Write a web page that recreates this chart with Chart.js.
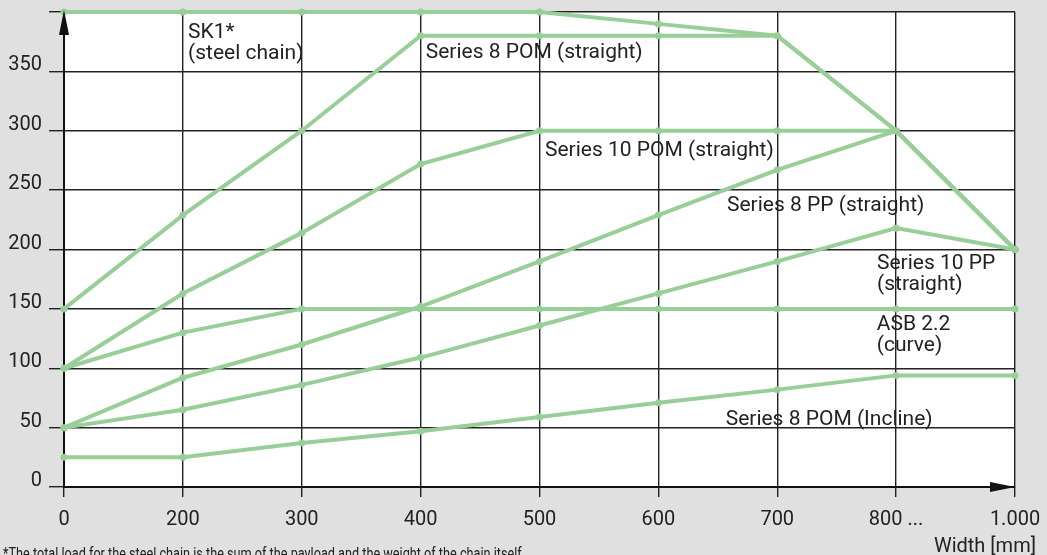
<!DOCTYPE html>
<html>
<head>
<meta charset="utf-8">
<script src="https://cdn.jsdelivr.net/npm/chart.js@4.4.1/dist/chart.umd.min.js"></script>
<style>
  html, body { margin: 0; padding: 0; background: #e0e0e0; }
  #wrap { width: 1047px; height: 555px; position: relative; }
</style>
</head>
<body>
<div id="wrap"><canvas id="loadChart"></canvas></div>
<script>
const widths = ['0', '200', '300', '400', '500', '600', '700', '800 ...', '1.000'];
const sk1Steel = [400, 400, 400, 400, 400, 390, 380, 300, 200];
const s8PomStraight = [150, 229, 300, 380, 380, 380, 380, 300, 200];
const s10PomStraight = [100, 163, 214, 272, 300, 300, 300, 300, 200];
const s8PpStraight = [50, 92, 120, 152, 190, 229, 267, 300, 200];
const s10PpStraight = [50, 65, 86, 109, 136, 163, 190, 218, 200];
const asbCurve = [100, 130, 150, 150, 150, 150, 150, 150, 150];
const s8PomIncline = [25, 25, 37, 47, 59, 71, 82, 94, 94];
const yTicks = [0, 50, 100, 150, 200, 250, 300, 350];

// series labels: lines, x (category index), y (value at first baseline)
const seriesLabels = [
  { lines: ['SK1*', '(steel chain)'], x: 1.043, y: 378 },
  { lines: ['Series 8 POM (straight)'], x: 3.043, y: 361 },
  { lines: ['Series 10 POM (straight)'], x: 4.046, y: 279 },
  { lines: ['Series 8 PP (straight)'], x: 5.577, y: 232.5 },
  { lines: ['Series 10 PP', '(straight)'], x: 6.839, y: 184 },
  { lines: ['ASB 2.2', '(curve)'], x: 6.837, y: 132.5 },
  { lines: ['Series 8 POM (Incline)'], x: 5.566, y: 52.3 }
];

const green = '#98ce98';
const ink = '#222';
const font = 'Roboto';

const series = [sk1Steel, s8PomStraight, s10PomStraight, s8PpStraight, s10PpStraight, asbCurve, s8PomIncline];

const plotBg = {
  id: 'plotBg',
  beforeDraw(chart) {
    const { ctx, chartArea: a } = chart;
    ctx.save();
    ctx.fillStyle = '#fff';
    ctx.fillRect(a.left, a.top, a.right - a.left, a.bottom - a.top);
    ctx.restore();
  }
};

const extras = {
  id: 'extras',
  afterDatasetsDraw(chart) {
    const { ctx, chartArea: a, scales: { x, y } } = chart;
    ctx.save();
    // arrows
    ctx.fillStyle = '#111';
    ctx.beginPath();
    ctx.moveTo(a.left, a.top - 2);
    ctx.lineTo(a.left - 5, a.top + 23);
    ctx.lineTo(a.left + 5, a.top + 23);
    ctx.closePath();
    ctx.fill();
    ctx.beginPath();
    ctx.moveTo(a.right, a.bottom);
    ctx.lineTo(a.right - 25, a.bottom - 5);
    ctx.lineTo(a.right - 25, a.bottom + 5);
    ctx.closePath();
    ctx.fill();

    // series labels
    ctx.fillStyle = ink;
    ctx.font = '21px ' + font;
    ctx.textAlign = 'left';
    ctx.textBaseline = 'alphabetic';
    seriesLabels.forEach(l => {
      const px = x.getPixelForValue(l.x);
      const py = y.getPixelForValue(l.y);
      l.lines.forEach((t, i) => ctx.fillText(t, px, py + i * 21));
    });

    // axis title
    ctx.font = '20px ' + font;
    ctx.textAlign = 'right';
    ctx.fillText('Width [mm]', 1036, 552);

    // footnote
    const note = '*The total load for the steel chain is the sum of the payload and the weight of the chain itself.';
    ctx.font = '16px ' + font;
    ctx.textAlign = 'left';
    const w = ctx.measureText(note).width;
    ctx.translate(3, 559);
    ctx.scale(522 / w, 1);
    ctx.fillText(note, 0, 0);
    ctx.restore();
  }
};

new Chart(document.getElementById('loadChart'), {
  type: 'line',
  data: {
    labels: widths,
    datasets: series.map(d => ({
      data: d,
      borderColor: green,
      backgroundColor: green,
      borderWidth: 4,
      pointRadius: 3.5,
      pointBorderWidth: 0,
      pointBackgroundColor: green,
      tension: 0,
      clip: false
    }))
  },
  options: {
    responsive: true,
    maintainAspectRatio: false,
    animation: false,
    layout: { padding: { top: 12, right: 32, left: 0, bottom: 0 } },
    plugins: { legend: { display: false }, tooltip: { enabled: false } },
    scales: {
      x: {
        type: 'category',
        grid: { color: '#222', lineWidth: 1.4, tickLength: 10 },
        border: { color: '#111', width: 2 },
        ticks: { color: ink, font: { family: font, size: 20 }, padding: 11, maxRotation: 0, autoSkip: false },
        afterFit: s => { s.height = 68; s.paddingLeft = 0; s.paddingRight = 0; }
      },
      y: {
        min: 0,
        max: 400,
        afterBuildTicks: s => { s.ticks = yTicks.concat([400]).map(v => ({ value: v })); },
        grid: { color: '#222', lineWidth: 1.4, tickLength: 15 },
        border: { color: '#111', width: 2 },
        ticks: {
          color: ink,
          font: { family: font, size: 20 },
          padding: 7,
          labelOffset: -6,
          callback: v => (yTicks.includes(v) ? String(v) : '')
        },
        afterFit: s => { s.width = 64; s.paddingTop = 0; s.paddingBottom = 0; }
      }
    }
  },
  plugins: [plotBg, extras]
});
</script>
</body>
</html>
